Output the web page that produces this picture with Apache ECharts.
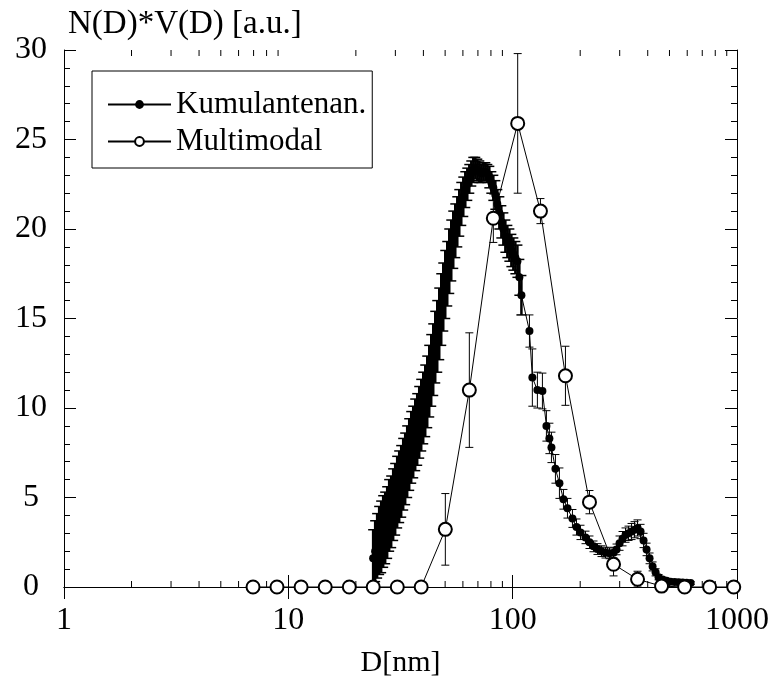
<!DOCTYPE html>
<html lang="de">
<head>
<meta charset="UTF-8">
<title>N(D)*V(D)</title>
<style>
  html, body { margin: 0; padding: 0; background: #fff; }
  #main { width: 774px; height: 680px; }
</style>
</head>
<body>
<div id="main"></div>
<script src="https://cdn.jsdelivr.net/npm/echarts@6/dist/echarts.min.js"></script>
<script>
// Kumulantenan.  (D in nm, value, error)
var kumD = [23.88, 24.38, 24.88, 25.40, 25.93, 26.47, 27.02, 27.58, 28.15, 28.74,
    29.33, 29.94, 30.56, 31.20, 31.85, 32.51, 33.18, 33.87, 34.58, 35.30,
    36.03, 36.78, 37.54, 38.32, 39.12, 39.93, 40.76, 41.61, 42.47, 43.35,
    44.25, 45.17, 46.11, 47.07, 48.05, 49.05, 50.06, 51.10, 52.16, 53.25,
    54.35, 55.48, 56.64, 57.81, 59.01, 60.24, 61.49, 62.77, 64.07, 65.40,
    66.76, 68.15, 69.56, 71.01, 72.48, 73.99, 75.53, 77.10, 78.70, 80.33,
    82.00, 83.71, 85.45, 87.22, 89.03, 90.88, 92.77, 94.70, 96.67, 98.68,
    100.7, 102.8, 105.0, 107.1, 109.4,
    118.8, 122.4, 128.9, 135.7, 141.4, 145.8, 148.9, 155.1, 161.6,
    168.4, 175.5, 184.7, 192.5, 200.6, 211.2, 220.0, 229.3, 238.8, 248.9,
    259.3, 270.2, 281.6, 290.4, 299.5, 308.9, 318.5, 328.5, 338.8, 349.4,
    360.3, 371.6, 383.2, 395.3, 407.6, 420.5, 433.6, 447.0, 465.9, 485.6,
    505.8, 527.2, 549.4, 572.4, 596.4, 621.3];
var kumY = [1.6, 2.0, 2.3, 2.6, 2.8, 3.1, 3.3, 3.6, 4.0, 4.2,
    4.6, 4.9, 5.3, 5.6, 5.9, 6.3, 6.6, 7.0, 7.4, 7.8,
    8.1, 8.5, 8.8, 9.2, 9.6, 10.0, 10.4, 10.9, 11.5, 12.1,
    12.7, 13.4, 14.0, 14.7, 15.5, 16.2, 16.9, 17.5, 18.2, 18.8,
    19.4, 19.9, 20.4, 20.9, 21.4, 21.8, 22.2, 22.5, 22.8, 23.1,
    23.3, 23.4, 23.3, 23.2, 23.1, 23.2, 23.2, 23.1, 22.9, 22.6,
    22.3, 21.9, 21.4, 20.9, 20.4, 20.0, 19.6, 19.3, 19.1, 18.8,
    18.6, 18.4, 18.2, 17.3, 16.3,
    14.3, 11.7, 11.0, 10.95, 9.0, 8.3, 7.8, 6.6, 5.8,
    4.9, 4.4, 3.83, 3.35, 3.05, 2.77, 2.5, 2.27, 2.12, 2.0,
    1.92, 1.88, 1.92, 2.1, 2.45, 2.7, 2.9, 3.0, 3.1, 3.2,
    3.3, 3.1, 2.6, 2.1, 1.6, 1.15, 0.82, 0.55, 0.42, 0.35,
    0.3, 0.28, 0.26, 0.25, 0.24, 0.22];
var kumErr = [1.6, 1.7, 1.8, 1.9, 2.0, 2.0, 2.0, 2.0, 2.0, 2.0,
    2.0, 2.0, 2.0, 2.0, 2.0, 2.0, 2.0, 2.0, 2.0, 2.0,
    2.0, 2.0, 2.0, 2.0, 2.0, 2.0, 2.0, 2.0, 2.0, 2.0,
    2.0, 2.0, 2.0, 2.0, 2.0, 1.9, 1.9, 1.8, 1.8, 1.7,
    1.6, 1.5, 1.4, 1.3, 1.2, 1.1, 1.0, 0.9, 0.8, 0.7,
    0.7, 0.6, 0.6, 0.6, 0.5, 0.5, 0.5, 0.5, 0.6, 0.6,
    0.7, 0.8, 0.8, 0.9, 0.9, 0.9, 0.9, 0.9, 0.9, 0.9,
    0.9, 0.9, 0.9, 1.0, 1.1,
    0.9, 1.6, 1.0, 1.0, 0.85, 0.85, 0.85, 0.8, 0.85,
    0.55, 0.55, 0.5, 0.45, 0.4, 0.35, 0.35, 0.3, 0.3, 0.3,
    0.3, 0.3, 0.3, 0.3, 0.4, 0.4, 0.4, 0.4, 0.45, 0.45,
    0.45, 0.4, 0.4, 0.35, 0.3, 0.25, 0.2, 0.15, 0.12, 0.1,
    0.1, 0.08, 0.08, 0.08, 0.08, 0.08];

// Multimodal
var multiD = [6.96, 8.9, 11.4, 14.6, 18.7, 23.9, 30.6, 39.1, 50.1, 64.1, 82.0,
    105.3, 133.0, 171.9, 220.0, 281.6, 360.3, 461, 584, 755, 967];
var multiY = [0, 0, 0, 0, 0, 0, 0, 0, 3.22, 11.0, 20.6,
    25.9, 21.0, 11.8, 4.74, 1.27, 0.43, 0.05, 0, 0, 0];
var multiErr = [0, 0, 0, 0, 0, 0, 0, 0, 2.0, 3.2, 1.35,
    3.9, 0.7, 1.65, 0.65, 0.65, 0.45, 0, 0, 0, 0];

// log axis minor ticks
var xMinorTicks = [2, 3, 4, 5, 6, 7, 8, 9, 20, 30, 40, 50, 60, 70, 80, 90,
    200, 300, 400, 500, 600, 700, 800, 900];

var FONT = "'Liberation Serif', 'Times New Roman', serif";

function pairs(xs, ys) {
    return xs.map(function (x, i) { return [x, ys[i]]; });
}

// heavyBelow: bars left of this D are drawn thicker (points sit close together there)
function errorBarSeries(xs, ys, es, capHalf, z, heavyBelow) {
    var data = [];
    for (var i = 0; i < xs.length; i++) {
        if (es[i] > 0) data.push([xs[i], ys[i], es[i]]);
    }
    return {
        type: 'custom',
        silent: true,
        z: z,
        clip: false,
        encode: { x: 0, y: 1 },
        data: data,
        renderItem: function (params, api) {
            var x = api.value(0), v = api.value(1), e = api.value(2);
            var hi = api.coord([x, v + e]);
            var lo = api.coord([x, Math.max(v - e, 0)]);
            var heavy = x < heavyBelow;
            var st = { stroke: '#000', lineWidth: heavy ? 2.5 : 1 };
            var capSt = { stroke: '#000', lineWidth: heavy ? 1.5 : 1 };
            var cap = heavy ? capHalf + 1 : capHalf;
            return {
                type: 'group',
                children: [
                    { type: 'line', shape: { x1: hi[0], y1: hi[1], x2: lo[0], y2: lo[1] }, style: st },
                    { type: 'line', shape: { x1: hi[0] - cap, y1: hi[1], x2: hi[0] + cap, y2: hi[1] }, style: capSt },
                    { type: 'line', shape: { x1: lo[0] - cap, y1: lo[1], x2: lo[0] + cap, y2: lo[1] }, style: capSt }
                ]
            };
        }
    };
}

var myChart = echarts.init(document.getElementById('main'));

var option = {
    animation: false,
    backgroundColor: '#fff',
    title: {
        text: 'N(D)*V(D) [a.u.]',
        left: 63,
        top: 3,
        textStyle: { fontFamily: FONT, fontSize: 33, fontWeight: 'normal', color: '#000' }
    },
    legend: {
        data: ['Kumulantenan.', 'Multimodal'],
        orient: 'vertical',
        left: 92,
        top: 71,
        padding: [18, 6, 11, 15],
        itemGap: 6,
        itemWidth: 63,
        itemHeight: 11,
        borderColor: '#000',
        borderWidth: 1,
        borderRadius: 0,
        backgroundColor: '#fff',
        textStyle: { fontFamily: FONT, fontSize: 31, color: '#000' }
    },
    grid: {
        left: 64,
        right: 37,
        top: 50,
        bottom: 93,
        outerBoundsMode: 'none'
    },
    xAxis: [{
        type: 'log',
        logBase: 10,
        min: 1,
        max: 1000,
        position: 'bottom',
        name: 'D[nm]',
        nameLocation: 'middle',
        nameGap: 61,
        nameTextStyle: { fontFamily: FONT, fontSize: 30, color: '#000' },
        axisLine: { show: true, lineStyle: { color: '#000', width: 1 } },
        axisTick: { show: true, inside: true, length: 12, lineStyle: { color: '#000' } },
        axisLabel: {
            fontFamily: FONT, fontSize: 32, color: '#000', margin: 18,
            formatter: function (v) { return String(Math.round(v)); }
        },
        splitLine: { show: false }
    }, {
        type: 'log',
        logBase: 10,
        min: 1,
        max: 1000,
        position: 'top',
        axisLine: { show: true, lineStyle: { color: '#000', width: 1 } },
        axisTick: { show: true, inside: true, length: 12, lineStyle: { color: '#000' } },
        axisLabel: { show: false },
        splitLine: { show: false }
    }],
    yAxis: [{
        type: 'value',
        min: 0,
        max: 30,
        interval: 5,
        position: 'left',
        axisLine: { show: true, lineStyle: { color: '#000', width: 1 } },
        axisTick: { show: true, inside: true, length: 12, lineStyle: { color: '#000' } },
        minorTick: { show: true, splitNumber: 5, length: 6, lineStyle: { color: '#000' } },
        axisLabel: { fontFamily: FONT, fontSize: 32, color: '#000', margin: 33, align: 'center' },
        splitLine: { show: false }
    }, {
        type: 'value',
        min: 0,
        max: 30,
        interval: 5,
        position: 'right',
        axisLine: { show: true, lineStyle: { color: '#000', width: 1 } },
        axisTick: { show: true, inside: true, length: 12, lineStyle: { color: '#000' } },
        minorTick: { show: true, splitNumber: 5, length: 6, lineStyle: { color: '#000' } },
        axisLabel: { show: false },
        splitLine: { show: false }
    }],
    series: [
        // minor ticks of the log axis, bottom and top
        {
            type: 'custom',
            silent: true,
            clip: false,
            z: 5,
            encode: { x: 0, y: 1 },
            data: xMinorTicks.map(function (v) { return [v, 0]; }),
            renderItem: function (params, api) {
                var b = api.coord([api.value(0), 0]);
                var t = api.coord([api.value(0), 30]);
                var st = { stroke: '#000', lineWidth: 1 };
                return {
                    type: 'group',
                    children: [
                        { type: 'line', shape: { x1: b[0], y1: b[1], x2: b[0], y2: b[1] - 6 }, style: st },
                        { type: 'line', shape: { x1: t[0], y1: t[1], x2: t[0], y2: t[1] + 6 }, style: st }
                    ]
                };
            }
        },
        errorBarSeries(kumD, kumY, kumErr, 4, 2, 110),
        {
            name: 'Kumulantenan.',
            type: 'line',
            data: pairs(kumD, kumY),
            symbol: 'circle',
            symbolSize: 8,
            showAllSymbol: true,
            clip: false,
            z: 3,
            itemStyle: { color: '#000' },
            lineStyle: { color: '#000', width: 1 }
        },
        errorBarSeries(multiD, multiY, multiErr, 4, 4, 0),
        {
            name: 'Multimodal',
            type: 'line',
            data: pairs(multiD, multiY),
            symbol: 'emptyCircle',
            symbolSize: 13,
            showAllSymbol: true,
            clip: false,
            z: 6,
            itemStyle: { color: '#000', borderColor: '#000', borderWidth: 1 },
            lineStyle: { color: '#000', width: 1 }
        }
    ]
};

myChart.setOption(option);
</script>
</body>
</html>
